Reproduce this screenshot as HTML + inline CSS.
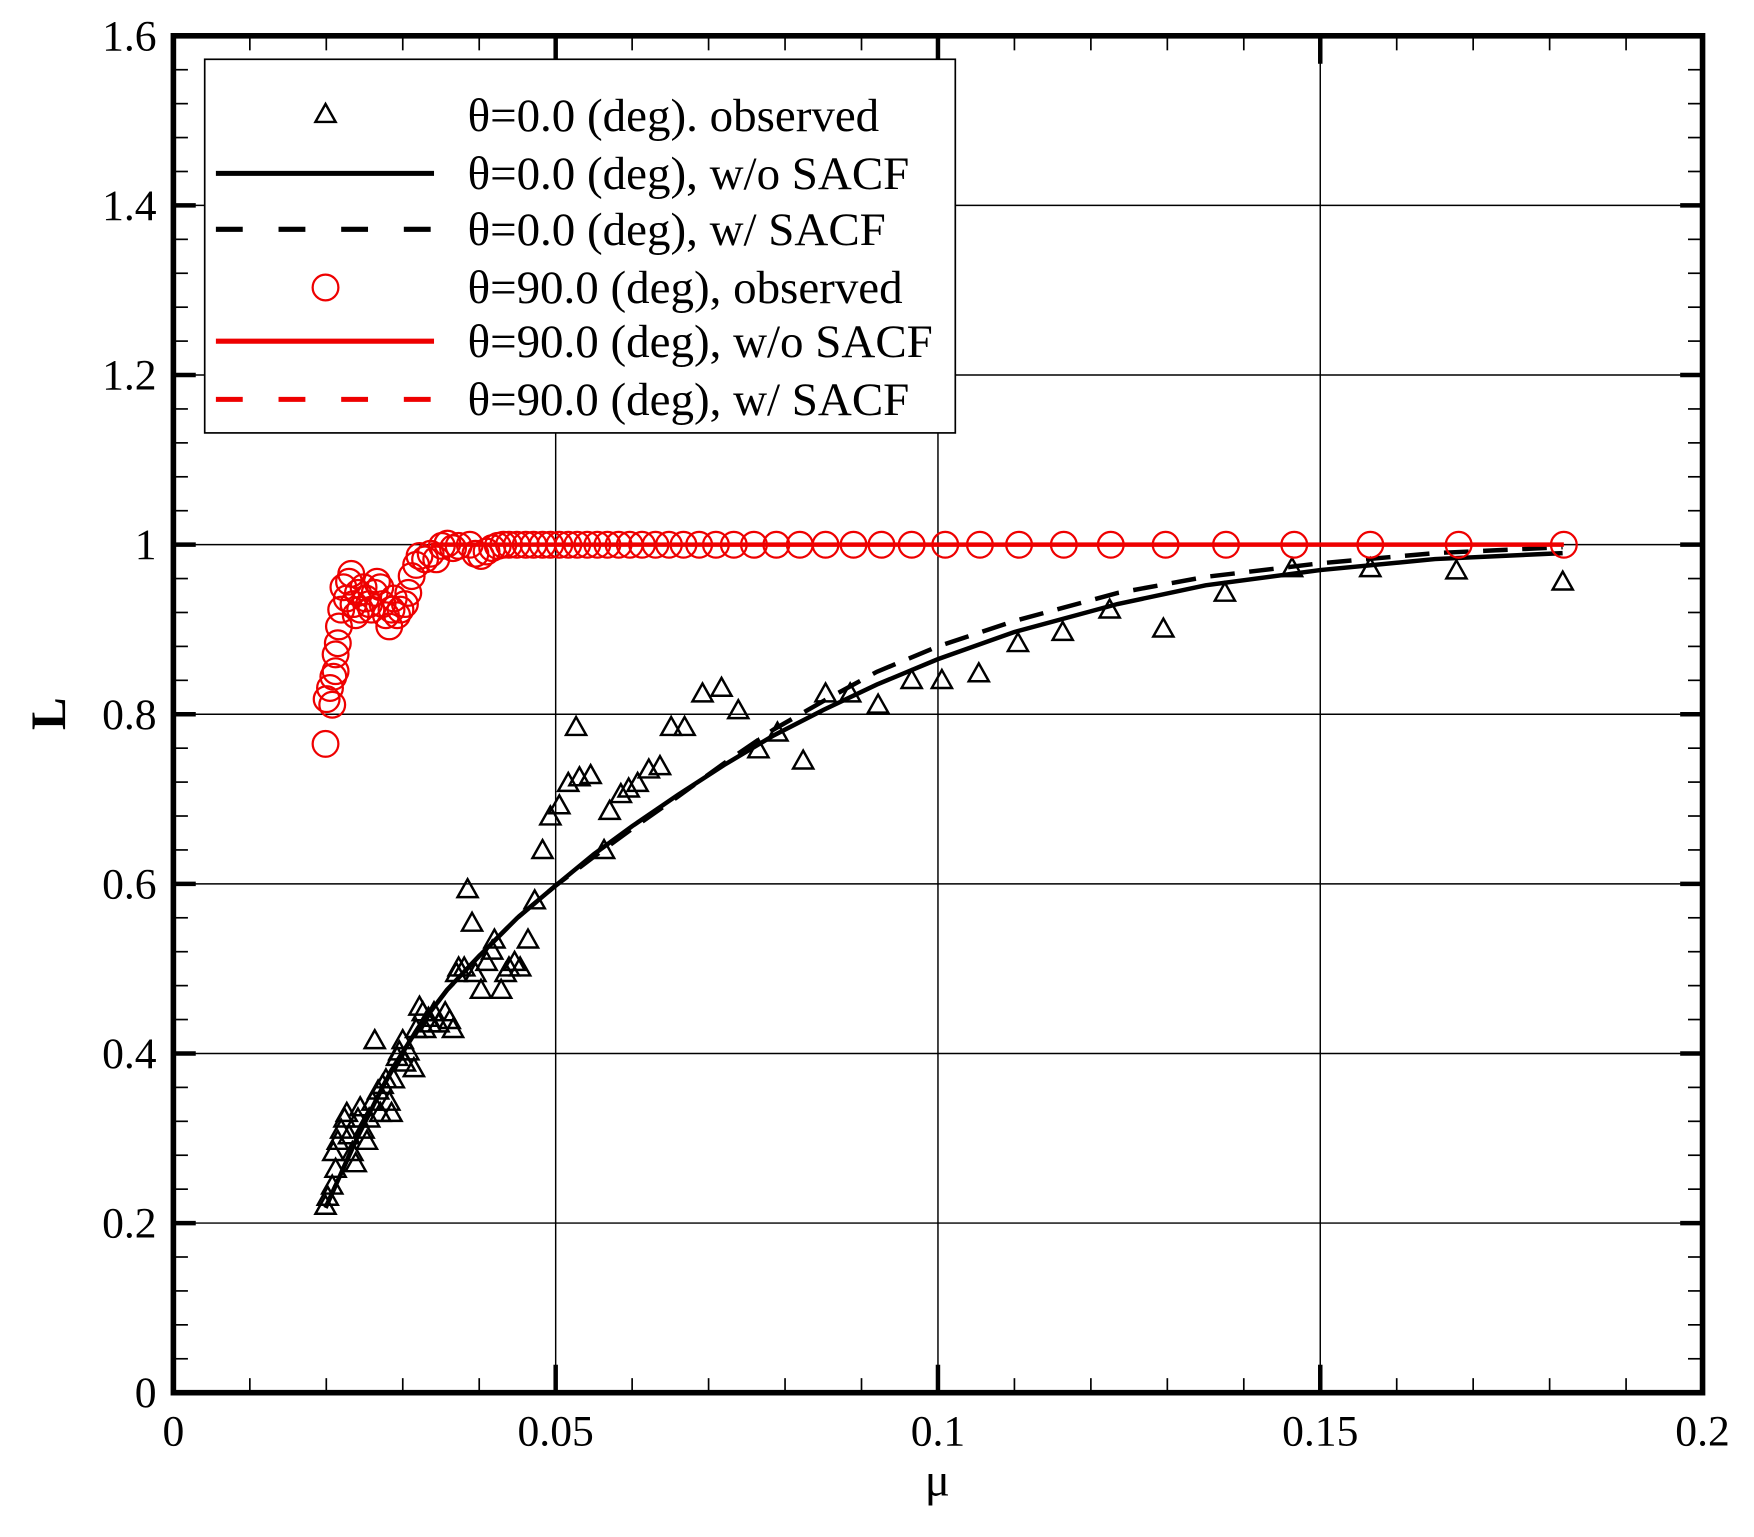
<!DOCTYPE html>
<html><head><meta charset="utf-8"><style>
html,body{margin:0;padding:0;background:#fff;}
svg{display:block;}
text{font-family:"Liberation Serif",serif;fill:#000;}
</style></head><body>
<svg id="s" width="1754" height="1537" viewBox="0 0 1568 1374" xmlns="http://www.w3.org/2000/svg"></svg>
<script>
const S=document.getElementById('s');let h='';
const X0=155,X1=1522,Y0=1245,Y1=32;
const px=m=>X0+(X1-X0)*m/0.2, py=l=>Y0-(Y0-Y1)*l/1.6;
for(const m of [0.05,0.1,0.15]) h+=`<line x1="${px(m)}" y1="${Y1}" x2="${px(m)}" y2="${Y0}" stroke="#000" stroke-width="1.3"/>`;
for(let i=1;i<8;i++){const y=py(i*0.2);h+=`<line x1="${X0}" y1="${y}" x2="${X1}" y2="${y}" stroke="#000" stroke-width="1.3"/>`;}
for(let i=0;i<=20;i++){const x=px(i*0.01),maj=i%5==0,L=maj?25:13,w=maj?4:1.5;
h+=`<line x1="${x}" y1="${Y0}" x2="${x}" y2="${Y0-L}" stroke="#000" stroke-width="${w}"/><line x1="${x}" y1="${Y1}" x2="${x}" y2="${Y1+L}" stroke="#000" stroke-width="${w}"/>`;}
for(let i=0;i<=40;i++){const y=py(i*0.04),maj=i%5==0,L=maj?20:13,w=maj?4:1.5;
h+=`<line x1="${X0}" y1="${y}" x2="${X0+L}" y2="${y}" stroke="#000" stroke-width="${w}"/><line x1="${X1}" y1="${y}" x2="${X1-L}" y2="${y}" stroke="#000" stroke-width="${w}"/>`;}
const yl=['0','0.2','0.4','0.6','0.8','1','1.2','1.4','1.6'];
yl.forEach((t,i)=>{h+=`<text x="140" y="${py(i*0.2)+13}" font-size="39" text-anchor="end">${t}</text>`;});
['0','0.05','0.1','0.15','0.2'].forEach((t,i)=>{h+=`<text x="${px(i*0.05)}" y="1292" font-size="39" text-anchor="middle">${t}</text>`;});
h+=`<text x="838" y="1337" font-size="42" text-anchor="middle">μ</text>`;
h+=`<text transform="translate(58,638) rotate(-90)" font-size="44" font-weight="bold" text-anchor="middle">L</text>`;
function curve(pts){return pts.map((p,i)=>(i?'L':'M')+px(p[0])+' '+py(p[1])).join(' ');}
const solid=[[0.0199,0.218],[0.022,0.26],[0.024,0.30],[0.0265,0.345],[0.0285,0.38],[0.032,0.43],[0.0358,0.475],[0.04,0.515],[0.045,0.56],[0.05,0.598],[0.055,0.635],[0.06,0.668],[0.066,0.705],[0.072,0.74],[0.0785,0.775],[0.085,0.805],[0.092,0.835],[0.1,0.865],[0.11,0.897],[0.1235,0.93],[0.135,0.952],[0.15,0.970],[0.165,0.983],[0.1817,0.99]];
const dashed=[[0.0199,0.218],[0.022,0.26],[0.024,0.30],[0.0265,0.345],[0.0285,0.38],[0.032,0.43],[0.0358,0.475],[0.04,0.515],[0.045,0.56],[0.05,0.598],[0.055,0.632],[0.06,0.665],[0.066,0.703],[0.072,0.742],[0.0785,0.782],[0.0855,0.818],[0.092,0.85],[0.1,0.88],[0.11,0.91],[0.1235,0.943],[0.135,0.962],[0.15,0.978],[0.165,0.99],[0.1817,0.997]];
h+=`<path d="${curve(solid)}" fill="none" stroke="#000" stroke-width="4"/>`;
h+=`<path d="${curve(dashed)}" fill="none" stroke="#000" stroke-width="4" stroke-dasharray="22 13"/>`;
h+=`<line x1="385" y1="${py(1)}" x2="1398" y2="${py(1)}" stroke="#e00" stroke-width="4"/>`;
const tri=[[291,1078],[293,1070],[297,1060],[300,1045],[298,1030],[302,1020],[305,1010],[308,1000],[310,995],[312,1015],[315,1030],[318,1040],[320,1000],[322,990],[325,1010],[328,1020],[330,1000],[333,985],[335,930],[338,975],[340,995],[342,970],[345,965],[348,985],[350,995],[352,965],[355,945],[357,940],[360,930],[362,950],[365,940],[370,955],[372,920],[375,900],[378,905],[380,920],[383,910],[385,915],[388,905],[392,915],[398,905],[402,912],[405,920],[408,870],[410,865],[415,865],[418,795],[422,825],[425,870],[430,885],[435,860],[440,850],[442,840],[448,885],[452,870],[455,865],[460,860],[465,865],[472,840],[478,805],[485,760],[492,730],[500,720],[508,700],[515,650],[518,695],[528,693],[540,760],[545,725],[555,710],[562,705],[570,700],[580,688],[590,685],[600,650],[612,650],[628,620],[645,615],[660,635],[678,670],[695,655],[718,680],[738,620],[760,620],[785,630],[815,608],[842,608],[875,602],[910,575],[950,565],[992,545],[1040,562],[1095,530],[1155,508],[1225,508],[1302,510],[1397,520]];
const T=(x,y)=>`<path d="M${x} ${y-9} L${x+9} ${y+7} L${x-9} ${y+7} Z" fill="none" stroke="#000" stroke-width="2.2"/>`;
tri.forEach(p=>h+=T(p[0],p[1]));
const circ=[[291,665],[292,625],[295,615],[297,630],[298,605],[300,600],[300,585],[302,575],[303,560],[305,545],[307,525],[310,535],[312,520],[314,513],[316,540],[318,550],[320,530],[322,545],[325,525],[327,535],[330,540],[332,545],[335,530],[337,520],[340,525],[342,540],[345,550],[348,560],[350,545],[352,535],[355,550],[358,545],[362,540],[365,530],[368,515],[372,505],[375,497],[380,500],[385,495],[390,500],[395,488],[400,486],[405,490],[410,488],[420,487],[425,495],[430,497],[435,493],[440,490],[445,488],[450,487]];
[455,462,470,477,485,492,500,508,516,525,534,543,553,563,574,586,598,611,625,640,656,674,694,715,738,763,788,815,845,876,911,951,993,1042,1096,1157,1225,1304,1398].forEach(x=>circ.push([x,487]));
circ.forEach(p=>h+=`<circle cx="${p[0]}" cy="${p[1]}" r="11.5" fill="none" stroke="#e00" stroke-width="2"/>`);
h+=`<rect x="${X0}" y="${Y1}" width="${X1-X0}" height="${Y0-Y1}" fill="none" stroke="#000" stroke-width="5"/>`;
h+=`<rect x="183" y="53" width="671" height="334" fill="#fff" stroke="#000" stroke-width="1.5"/>`;
const rows=[103,155,205,257,305,357];
h+=T(291,102);
h+=`<line x1="193" y1="155" x2="388" y2="155" stroke="#000" stroke-width="4.5"/>`;
h+=`<line x1="193" y1="205" x2="388" y2="205" stroke="#000" stroke-width="4.5" stroke-dasharray="24 32"/>`;
h+=`<circle cx="291" cy="257" r="11.5" fill="none" stroke="#e00" stroke-width="2"/>`;
h+=`<line x1="193" y1="305" x2="388" y2="305" stroke="#e00" stroke-width="4.5"/>`;
h+=`<line x1="193" y1="357" x2="388" y2="357" stroke="#e00" stroke-width="4.5" stroke-dasharray="24 32"/>`;
const lt=['θ=0.0 (deg). observed','θ=0.0 (deg), w/o SACF','θ=0.0 (deg), w/ SACF','θ=90.0 (deg), observed','θ=90.0 (deg), w/o SACF','θ=90.0 (deg), w/ SACF'];
lt.forEach((t,i)=>h+=`<text x="418" y="${rows[i]+14}" font-size="42">${t}</text>`);
S.innerHTML=h;
</script>
</body></html>
